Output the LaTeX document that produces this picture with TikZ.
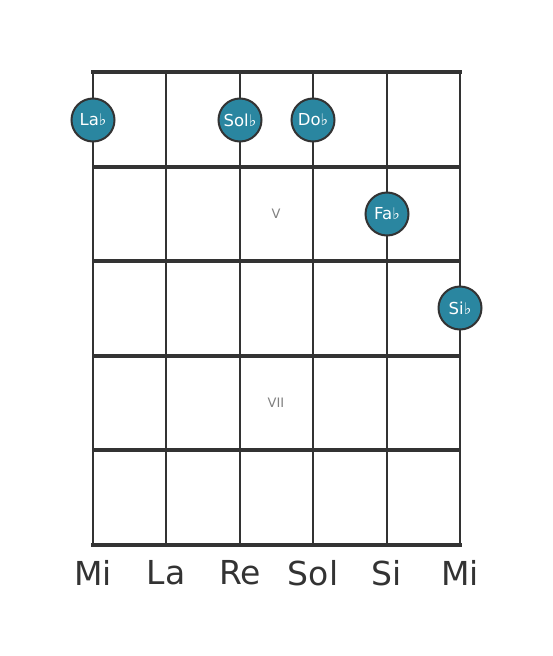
\documentclass[tikz,border=0pt]{standalone}
\usepackage{fontspec}
\setmainfont{DejaVu Sans}
\usetikzlibrary{positioning}
\definecolor{notefill}{HTML}{2A86A0}
\definecolor{gridline}{HTML}{333333}
\newcommand{\fl}{{\fontsize{16}{16}\selectfont ♭}}
\tikzset{
    fret/.style = {
        draw = gridline,
        line width = 4.5pt,
        },
    string/.style = {
        draw = gridline,
        line width = 2.6pt,
        },
    note/.style = {
        circle,
        fill = notefill,
        draw = gridline,
        line width = 2pt,
        minimum size = 43pt,
        inner sep = 0pt,
        text = white,
        font = \fontsize{16.5}{16.5}\selectfont,
        },
    tuning/.style = {
        text = gridline,
        font = \fontsize{33}{33}\selectfont,
        },
    position/.style = {
        text = gray,
        font = \fontsize{13}{13}\selectfont,
        },
}

\begin{document}
\begin{tikzpicture}[x=1pt, y=-1pt]
            \useasboundingbox (0,0) rectangle (553,656);

            % strings
            \coordinate (s1t) at (93,72);   \coordinate (s1b) at (93,545);
            \coordinate (s2t) at (166,72);  \coordinate (s2b) at (166,545);
            \coordinate (s3t) at (240,72);  \coordinate (s3b) at (240,545);
            \coordinate (s4t) at (313,72);  \coordinate (s4b) at (313,545);
            \coordinate (s5t) at (387,72);  \coordinate (s5b) at (387,545);
            \coordinate (s6t) at (460,72);  \coordinate (s6b) at (460,545);
            \path (s1t) edge[string] (s1b);
            \path (s2t) edge[string] (s2b);
            \path (s3t) edge[string] (s3b);
            \path (s4t) edge[string] (s4b);
            \path (s5t) edge[string] (s5b);
            \path (s6t) edge[string] (s6b);

            % frets
            \coordinate (f0l) at (93,72);   \coordinate (f0r) at (460,72);
            \coordinate (f1l) at (93,167);  \coordinate (f1r) at (460,167);
            \coordinate (f2l) at (93,261);  \coordinate (f2r) at (460,261);
            \coordinate (f3l) at (93,356);  \coordinate (f3r) at (460,356);
            \coordinate (f4l) at (93,450);  \coordinate (f4r) at (460,450);
            \coordinate (f5l) at (93,545);  \coordinate (f5r) at (460,545);
            \path (f0l) edge[fret, line cap=rect] (f0r);
            \path (f1l) edge[fret] (f1r);
            \path (f2l) edge[fret] (f2r);
            \path (f3l) edge[fret] (f3r);
            \path (f4l) edge[fret] (f4r);
            \path (f5l) edge[fret, line cap=rect] (f5r);

            \node[position] (V) at (276,214) {V};
            \node[position] (VII) at (276,403) {VII};

            \node[note] (Lab) at (93,120) {La\fl};
            \node[note] (Solb) at (240,120) {Sol\fl};
            \node[note] (Dob) at (313,120) {Do\fl};
            \node[note] (Fab) at (387,214) {Fa\fl};
            \node[note] (Sib) at (460,308) {Si\fl};

            \node[tuning] (t1) at (93,573) {Mi};
            \node[tuning] (t2) at (166,573) {La};
            \node[tuning] (t3) at (240,573) {Re};
            \node[tuning] (t4) at (313,573) {Sol};
            \node[tuning] (t5) at (387,573) {Si};
            \node[tuning] (t6) at (460,573) {Mi};
        \end{tikzpicture}
\end{document}
